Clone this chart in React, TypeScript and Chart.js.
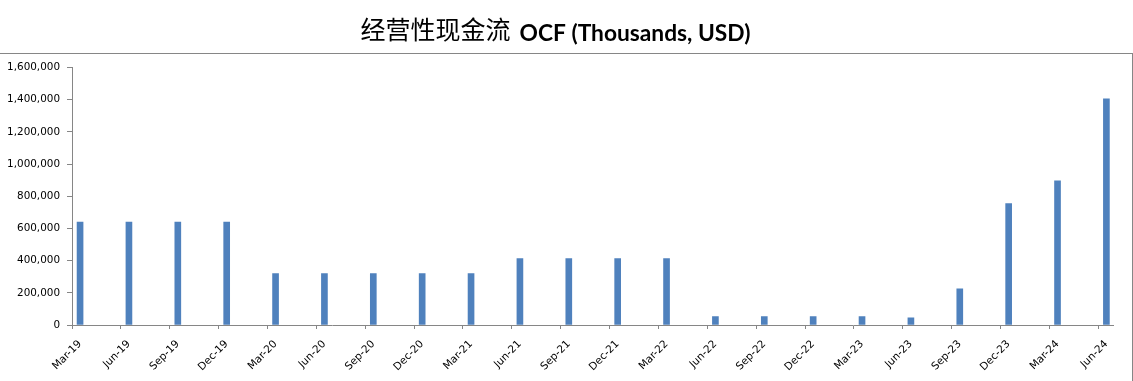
import React, { useEffect, useRef } from 'react';
import { Chart, registerables } from 'chart.js';

Chart.register(...registerables);

const TITLE_CN = '经营性现金流';
const TITLE_EN = 'OCF (Thousands, USD)';

const categories = [
  'Mar-19', 'Jun-19', 'Sep-19', 'Dec-19',
  'Mar-20', 'Jun-20', 'Sep-20', 'Dec-20',
  'Mar-21', 'Jun-21', 'Sep-21', 'Dec-21',
  'Mar-22', 'Jun-22', 'Sep-22', 'Dec-22',
  'Mar-23', 'Jun-23', 'Sep-23', 'Dec-23',
  'Mar-24', 'Jun-24',
];

const ocfValues = [
  640000, 640000, 640000, 640000,
  320000, 320000, 320000, 320000,
  320000, 412000, 412000, 412000,
  412000, 52000, 52000, 52000,
  52000, 45000, 225000, 755000,
  896000, 1405000,
];

const yMin = 0;
const yMax = 1600000;
const yStep = 200000;

const AXIS_COLOR = '#868686';
const BAR_COLOR = '#4F81BD';
const TEXT_COLOR = '#000000';
const BAR_SHIFT = 0.165;
const X_MAX = 21.3;

const framePlugin = {
  id: 'frame',
  beforeDraw(chart: any) {
    const ctx = chart.ctx as CanvasRenderingContext2D;
    ctx.save();
    ctx.fillStyle = '#ffffff';
    ctx.fillRect(0, 0, chart.width, chart.height);
    ctx.strokeStyle = AXIS_COLOR;
    ctx.lineWidth = 1;
    ctx.strokeRect(-3, 53.5, 1135.5, 400);

    ctx.fillStyle = TEXT_COLOR;
    ctx.textBaseline = 'alphabetic';
    ctx.textAlign = 'left';
    ctx.font = '25px "Noto Sans CJK SC"';
    const cnW = ctx.measureText(TITLE_CN).width;
    ctx.font = 'bold 22px Lato';
    const enW0 = ctx.measureText(TITLE_EN).width;
    const enSize = 22 * 231 / enW0;
    ctx.font = `bold ${enSize}px Lato`;
    const enW = ctx.measureText(TITLE_EN).width;
    const gap = 9;
    const total = cnW + gap + enW;
    const startX = 555.5 - total / 2;
    ctx.font = '25px "Noto Sans CJK SC"';
    ctx.fillText(TITLE_CN, startX, 39);
    ctx.font = `bold ${enSize}px Lato`;
    ctx.fillText(TITLE_EN, startX + cnW + gap, 41);
    ctx.restore();
  },
};

export default function App() {
  const canvasRef = useRef<HTMLCanvasElement | null>(null);

  useEffect(() => {
    if (!canvasRef.current) return;
    const chart = new Chart(canvasRef.current, {
      type: 'bar',
      data: {
        datasets: [
          {
            label: 'OCF',
            data: ocfValues.map((v, i) => ({ x: i + BAR_SHIFT, y: v })),
            backgroundColor: BAR_COLOR,
            borderWidth: 0,
            barThickness: 6,
          },
        ],
      },
      options: {
        responsive: false,
        animation: false,
        devicePixelRatio: 1,
        layout: { padding: { top: 67.5, right: 20, left: 0, bottom: 0 } },
        plugins: {
          legend: { display: false },
          tooltip: { enabled: false },
          title: { display: false },
        },
        scales: {
          x: {
            type: 'linear',
            offset: false,
            min: 0,
            max: X_MAX,
            afterBuildTicks: (s: any) => {
              s.ticks = categories.map((_, i) => ({ value: i }));
            },
            afterFit: (s: any) => {
              s.height = 56;
            },
            ticks: {
              autoSkip: false,
              minRotation: 45,
              maxRotation: 45,
              padding: 9,
              labelOffset: 8,
              color: TEXT_COLOR,
              font: { family: '"DejaVu Sans"', size: 10.5 },
              callback: (_v: any, i: number) => categories[i],
            },
            grid: {
              display: true,
              offset: false,
              drawOnChartArea: false,
              drawTicks: true,
              tickLength: 4,
              color: AXIS_COLOR,
            },
            border: { display: true, color: AXIS_COLOR },
          },
          y: {
            type: 'linear',
            min: yMin,
            max: yMax,
            afterFit: (s: any) => {
              s.width = 72;
            },
            ticks: {
              stepSize: yStep,
              padding: 7,
              color: TEXT_COLOR,
              font: { family: '"DejaVu Sans"', size: 10.4 },
              callback: (v: any) => Number(v).toLocaleString('en-US'),
            },
            grid: {
              display: true,
              drawOnChartArea: false,
              drawTicks: true,
              tickLength: 5,
              color: AXIS_COLOR,
            },
            border: { display: true, color: AXIS_COLOR },
          },
        },
      },
      plugins: [framePlugin],
    });
    return () => chart.destroy();
  }, []);

  return (
    <div style={{ position: 'fixed', left: 0, top: 0, width: 1133, height: 381, background: '#fff' }}>
      <canvas ref={canvasRef} width={1133} height={381} style={{ display: 'block' }} />
    </div>
  );
}
